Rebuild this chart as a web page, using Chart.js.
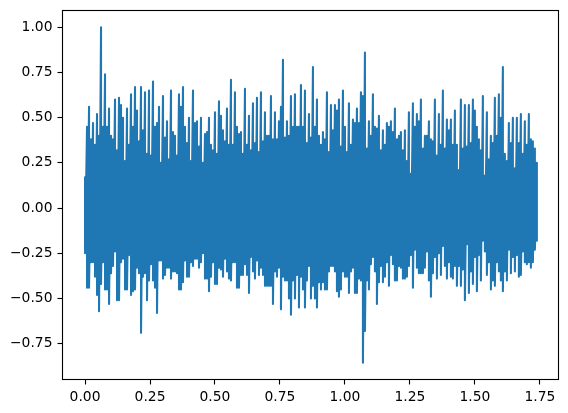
<!DOCTYPE html>
<html>
<head>
<meta charset="utf-8">
<style>html,body{margin:0;padding:0;background:#fff}canvas{display:block}</style>
<script src="https://cdn.jsdelivr.net/npm/chart.js@4/dist/chart.umd.min.js"></script>
</head>
<body>
<canvas id="c" width="568" height="413"></canvas>
<script>
const sampleRate = 130;
const upperPeaks = [
.17,.45,.56,.38,.47,.35,.52,.40,1.00,.45,.74,.45,.55,.40,.38,.60,.32,.61,.57,.50,.26,.55,.35,.63,.45,.67,.54,.37,.67,.43,.64,.30,.65,.29,.70,.45,.47,.56,.25,.62,.39,.48,.27,.65,.42,.40,.29,.63,.56,.67,.45,.36,.50,.26,.65,.47,.48,.34,.50,.25,.41,.42,.50,.35,.32,.53,.30,.59,.51,.43,.37,.55,.35,
.71,.35,.64,.45,.41,.42,.30,.66,.35,.51,.32,.58,.36,.61,.31,.64,.37,.53,.40,.40,.62,.38,.53,.38,.48,.56,.82,.39,.48,.40,.62,.45,.63,.45,.45,.68,.45,.65,.36,.52,.39,.78,.45,.60,.40,.35,.42,.38,.64,.31,.57,.43,.57,.54,.60,.34,.65,.45,.31,.58,.35,.49,.47,.55,.47,.64,.62,.86,.33,.48,.40,.63,.45,.44,.51,.32,.43,.35,.47,.45,
.48,.42,.55,.38,.40,.42,.32,.43,.26,.53,.19,.58,.45,.52,.48,.60,.33,.40,.40,.48,.38,.37,.60,.29,.52,.35,.65,.33,.49,.43,.49,.35,.54,.35,.21,.60,.33,.57,.34,.57,.36,.60,.54,.45,.38,.32,.62,.18,.53,.27,.40,.36,.61,.40,.63,.50,.78,.30,.26,.47,.36,.50,.22,.50,.36,.52,.30,.48,.35,.52,.38,.37,.33,.25
];
const lowerPeaks = [
-.25,-.44,-.44,-.30,-.30,-.38,-.48,-.57,-.42,-.30,-.45,-.45,-.53,-.36,-.32,-.24,-.51,-.51,-.30,-.28,-.45,-.45,-.26,-.48,-.46,-.45,-.33,-.36,-.69,-.38,-.36,-.51,-.40,-.31,-.40,-.44,-.58,-.29,-.29,-.39,-.37,-.33,-.33,-.39,-.35,-.35,-.36,-.45,-.45,-.41,-.29,-.38,-.38,-.30,-.32,-.28,-.28,-.33,-.30,-.25,-.39,-.39,-.46,-.38,-.30,-.42,-.42,-.33,-.34,-.38,-.28,-.35,-.39,
-.40,-.30,-.30,-.44,-.44,-.37,-.37,-.31,-.37,-.47,-.27,-.35,-.39,-.29,-.37,-.33,-.37,-.43,-.43,-.43,-.43,-.53,-.35,-.38,-.33,-.56,-.38,-.40,-.40,-.50,-.59,-.40,-.50,-.37,-.55,-.38,-.45,-.55,-.40,-.32,-.50,-.43,-.50,-.55,-.41,-.45,-.41,-.45,-.45,-.35,-.32,-.32,-.35,-.46,-.49,-.45,-.35,-.38,-.38,-.47,-.35,-.33,-.47,-.47,-.39,-.40,-.855,-.68,-.40,-.45,-.31,-.27,-.35,-.53,-.41,-.32,-.41,-.38,-.30,-.43,
-.26,-.31,-.40,-.40,-.32,-.33,-.39,-.39,-.38,-.32,-.26,-.44,-.23,-.33,-.36,-.36,-.36,-.33,-.24,-.40,-.49,-.36,-.27,-.39,-.25,-.37,-.21,-.32,-.39,-.30,-.38,-.39,-.32,-.43,-.32,-.43,-.34,-.51,-.20,-.47,-.35,-.42,-.27,-.46,-.26,-.40,-.18,-.24,-.37,-.30,-.45,-.40,-.43,-.30,-.35,-.40,-.46,-.35,-.40,-.23,-.36,-.27,-.35,-.26,-.38,-.37,-.24,-.30,-.31,-.30,-.33,-.30,-.23,-.18
];
const xTickValues = [0,0.25,0.5,0.75,1,1.25,1.5,1.75];
const yTickValues = [-0.75,-0.5,-0.25,0,0.25,0.5,0.75,1];
const xRange = [-0.0867, 1.8217];
const yRange = [-0.948, 1.0928];

const points = [];
const n = Math.min(upperPeaks.length, lowerPeaks.length);
for (let i = 0; i < n; i++) {
  points.push({x: i / sampleRate, y: upperPeaks[i]});
  points.push({x: i / sampleRate, y: lowerPeaks[i]});
}
const frame = {
  id: 'frame',
  afterDraw(chart) {
    const a = chart.chartArea, g = chart.ctx;
    g.save();
    g.strokeStyle = '#000';
    g.lineWidth = 1.11;
    g.strokeRect(a.left, a.top, a.right - a.left, a.bottom - a.top);
    g.restore();
  }
};
const fmt = v => Number(v).toFixed(2).replace('-', '\u2212');
const font = {family: '"DejaVu Sans"', size: 13.89};
const noPad = s => { s.paddingTop = 0; s.paddingBottom = 0; s.paddingLeft = 0; s.paddingRight = 0; };
new Chart(document.getElementById('c'), {
  type: 'line',
  data: {datasets: [{data: points, borderColor: '#1f77b4', borderWidth: 2.08, pointRadius: 0, tension: 0, fill: false, borderJoinStyle: 'round', borderCapStyle: 'round'}]},
  plugins: [frame],
  options: {
    responsive: false, animation: false, events: [],
    layout: {padding: {left: 0, top: 10.5, right: 9.5, bottom: 0}},
    plugins: {legend: {display: false}, tooltip: {enabled: false}, title: {display: false}},
    scales: {
      x: {
        type: 'linear', min: xRange[0], max: xRange[1],
        afterBuildTicks: s => { s.ticks = xTickValues.map(v => ({value: v})); },
        afterFit: s => { s.height = 33.5; noPad(s); },
        grid: {drawOnChartArea: false, drawTicks: true, tickLength: 5, color: '#000', tickWidth: 1.11},
        border: {display: false},
        ticks: {callback: fmt, color: '#000', font, padding: 5, maxRotation: 0, autoSkip: false}
      },
      y: {
        type: 'linear', min: yRange[0], max: yRange[1],
        afterBuildTicks: s => { s.ticks = yTickValues.map(v => ({value: v})); },
        afterFit: s => { s.width = 62.5; noPad(s); },
        grid: {drawOnChartArea: false, drawTicks: true, tickLength: 5, color: '#000', tickWidth: 1.11},
        border: {display: false},
        ticks: {callback: fmt, color: '#000', font, padding: 5, autoSkip: false}
      }
    }
  }
});
</script>
</body>
</html>
